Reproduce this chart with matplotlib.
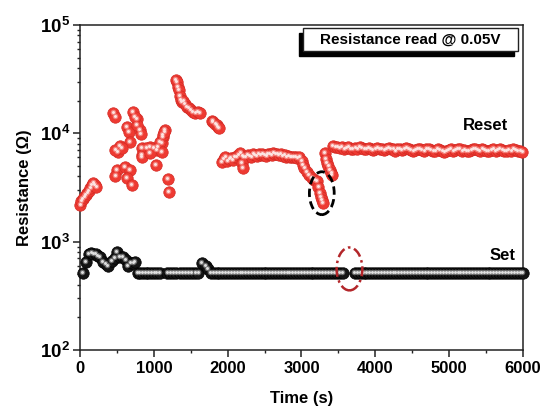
import numpy as np
import matplotlib
matplotlib.use("Agg")
import matplotlib.pyplot as plt
from matplotlib.patches import Ellipse, Rectangle
from matplotlib.transforms import offset_copy
from matplotlib.ticker import FixedLocator, FuncFormatter, LogLocator, NullFormatter, MultipleLocator

plt.rcParams['font.family'] = ['Liberation Sans', 'DejaVu Sans']
plt.rcParams['font.weight'] = 'bold'
plt.rcParams['mathtext.fontset'] = 'custom'
plt.rcParams['mathtext.rm'] = 'Liberation Sans:bold'
plt.rcParams['mathtext.bf'] = 'Liberation Sans:bold'

# ---- Reset state (high resistance) ----
reset_start_t = [0, 20, 40, 60, 80, 100, 120, 140, 160, 180, 200, 220]
reset_start_r = [2200, 2350, 2500, 2600, 2700, 2800, 2950, 3100, 3300, 3450, 3350, 3200]

reset_scatter_t = [447, 474, 717, 771, 636, 663, 812, 825, 1150, 1123, 541, 514, 677, 839,
                   839, 947, 1042, 1110, 1028, 500, 474, 609, 677, 636, 704, 1191, 1204,
                   900, 990, 1055, 1083, 1123, 1140, 1110, 839, 947, 474, 568, 771, 744]
reset_scatter_r = [15500, 14000, 15800, 13500, 11500, 10300, 10700, 9900, 10700, 9200, 7600,
                   6700, 8300, 7300, 6300, 7500, 7000, 8100, 5100, 4600, 4000, 4900, 4600,
                   3900, 3300, 3800, 2900, 7300, 7300, 7500, 8300, 9600, 10300, 6700, 6000,
                   6600, 7000, 7300, 12000, 14100]

reset_peak_t = [1300, 1312, 1326, 1340, 1353, 1367, 1380, 1400, 1420, 1448, 1470, 1500,
                1529, 1560, 1597, 1620, 1790, 1800, 1830, 1850, 1867, 1880]
reset_peak_r = [31000, 30000, 27000, 25000, 22000, 20500, 19500, 20000, 18500, 17500, 17000,
                16500, 15800, 15500, 15700, 15300, 13000, 12700, 12300, 12000, 11500, 11200]

reset_band_r = [5400, 5800, 6000, 5600, 5800, 5900, 5700, 6100, 6000, 6300, 6600, 6200, 6000,
                6100, 6300, 6200, 6100, 6400, 6300, 6200, 6400, 6300, 6500, 6300, 6200, 6400,
                6500, 6300, 6600, 6400, 6500, 6300, 6400, 6200, 6300, 6100, 6200, 6000, 6100,
                6000, 6100, 5900, 6000]
reset_band_t = np.linspace(1920, 2970, len(reset_band_r))
reset_outlier_t = [2190, 2206]
reset_outlier_r = [5300, 4800]

reset_dip_t = [3004, 3018, 3040, 3072, 3100, 3139, 3170, 3207, 3230, 3248, 3262, 3275, 3285,
               3315, 3330, 3342, 3360, 3383, 3400, 3410]
reset_dip_r = [5600, 5100, 4800, 4400, 4100, 3900, 3700, 3600, 3200, 2800, 2600, 2400, 2250,
               6600, 5800, 5300, 5000, 4600, 4300, 4100]

reset_late_r = [7700, 7500, 7400, 7300, 7400, 7200, 7300, 7400, 7200, 7100, 7300, 7200, 7400,
                7300, 7100, 7200, 7300, 7200, 7000, 7200, 7300, 7100, 7200, 7000, 7100, 7300,
                7200, 7100, 6900, 7100, 7200, 7000, 7100, 7300, 7200, 7000, 6800, 7000, 7100,
                7200, 7000, 6900, 7100, 7200, 7000, 6800, 6900, 7100, 7000, 6900, 6700, 6900,
                7000, 7100, 6900, 7000, 7200, 7100, 6900, 7000, 6800, 6900, 7000, 7100, 7200,
                7000, 6900, 7100, 7000, 6800, 6900, 7000, 7100, 6900, 7000, 7200, 7000, 6900,
                6800, 7000, 6900, 7100, 7000, 6900, 6800, 6700]
reset_late_t = np.linspace(3425, 5990, len(reset_late_r))

# ---- Set state (low resistance) ----
set_early_t = [40, 80, 120, 150, 180, 210, 240, 270, 311, 350, 379, 433, 470, 500, 540, 582,
               620, 650, 690, 720, 744, 785]
set_early_r = [510, 650, 770, 780, 775, 770, 740, 720, 650, 620, 600, 660, 700, 800, 720, 720,
               680, 590, 630, 640, 650, 510]
set_flat1_r = [510, 510, 510, 510, 510, 510, 510, 510]
set_flat1_t = np.linspace(810, 1080, len(set_flat1_r))
set_flat2_r = [510, 510, 510, 510, 510, 510, 510, 510, 510, 510, 510]
set_flat2_t = np.linspace(1180, 1600, len(set_flat2_r))
set_bump_t = [1651, 1700, 1732]
set_bump_r = [630, 590, 560]
set_flat3_r = [510] * 46
set_flat3_t = np.linspace(1770, 3560, len(set_flat3_r))
set_flat4_r = [510] * 58
set_flat4_t = np.linspace(3720, 6000, len(set_flat4_r))

reset_t = np.concatenate([reset_start_t, reset_scatter_t, reset_peak_t, reset_band_t,
                          reset_outlier_t, reset_dip_t, reset_late_t])
reset_r = np.concatenate([reset_start_r, reset_scatter_r, reset_peak_r, reset_band_r,
                          reset_outlier_r, reset_dip_r, reset_late_r])
set_t = np.concatenate([set_early_t, set_flat1_t, set_flat2_t, set_bump_t, set_flat3_t, set_flat4_t])
set_r = np.concatenate([set_early_r, set_flat1_r, set_flat2_r, set_bump_r, set_flat3_r, set_flat4_r])

fig = plt.figure(figsize=(5.45, 4.09), dpi=100)
ax = fig.add_axes([0.1468, 0.1443, 0.8128, 0.7946])
ax.set_yscale('log')
ax.set_xlim(0, 6000)
ax.set_ylim(1e2, 1e5)

# glossy spheres: base disc, soft glow and a small bright highlight nudged up-left
hl = offset_copy(ax.transData, fig=fig, x=-0.5, y=1.0, units='dots')


def spheres(t, r, face, edge, glow, shine):
    ax.scatter(t, r, s=68, c=face, edgecolors=edge, linewidths=0.5, zorder=3, clip_on=False)
    ax.scatter(t, r, s=16, c=glow, linewidths=0, zorder=4, transform=hl, clip_on=False)
    ax.scatter(t, r, s=4.5, c=shine, linewidths=0, zorder=5, transform=hl, clip_on=False)


spheres(reset_t, reset_r, '#ee3a32', '#d42a24', '#f47f79', '#fde6e4')
spheres(set_t, set_r, '#141414', '#000000', '#6a6a6a', '#e0e0e0')

# axes styling
for sp in ax.spines.values():
    sp.set_linewidth(1.1)
    sp.set_color('#222222')
ax.xaxis.set_major_locator(MultipleLocator(1000))
ax.xaxis.set_minor_locator(MultipleLocator(500))
ax.yaxis.set_major_locator(FixedLocator([1e2, 1e3, 1e4, 1e5]))
ax.yaxis.set_major_formatter(FuncFormatter(lambda v, p: r'$\mathbf{10^{%d}}$' % round(np.log10(v))))
ax.yaxis.set_minor_locator(LogLocator(base=10, subs=np.arange(2, 10)))
ax.yaxis.set_minor_formatter(NullFormatter())
ax.tick_params(axis='both', which='major', direction='out', length=5, width=1.1, color='#222222')
ax.tick_params(axis='both', which='minor', direction='out', length=2.5, width=1.0, color='#222222')
ax.tick_params(axis='x', labelsize=12, pad=3)
ax.tick_params(axis='y', labelsize=13.5, pad=2)
ax.tick_params(top=False, right=False, which='both')

ax.set_xlabel('Time (s)', fontsize=12, fontweight='bold', labelpad=11)
ax.set_ylabel('Resistance (\u03a9)', fontsize=12, fontweight='bold', labelpad=6)

ax.text(5494, 1.19e4, 'Reset', fontsize=12, fontweight='bold', ha='center', va='center')
ax.text(5724, 752, 'Set', fontsize=12, fontweight='bold', ha='center', va='center')

# annotation box with drop shadow
shadow_tr = offset_copy(ax.transAxes, fig=fig, x=-4, y=-5, units='dots')
bx, by, bw, bh = 0.503, 0.92, 0.486, 0.072
ax.add_patch(Rectangle((bx, by), bw, bh, transform=shadow_tr,
                       facecolor='black', edgecolor='black', zorder=6, clip_on=False))
ax.add_patch(Rectangle((bx, by), bw, bh, transform=ax.transAxes,
                       facecolor='white', edgecolor='#222222', linewidth=1.0, zorder=7, clip_on=False))
ax.text(bx + bw / 2, by + bh / 2, 'Resistance read @ 0.05V', transform=ax.transAxes,
        fontsize=11, fontweight='bold', ha='center', va='center', zorder=8)

# dashed ellipses highlighting the dip and the gap
to_axes = ax.transAxes.inverted()
c1 = to_axes.transform(ax.transData.transform((3275, 2800)))
ax.add_patch(Ellipse(c1, 0.056, 0.132, transform=ax.transAxes, fill=False,
                     edgecolor='black', linewidth=2.0, linestyle=(0, (3, 1.6)), zorder=9))
c2 = to_axes.transform(ax.transData.transform((3650, 560)))
ax.add_patch(Ellipse(c2, 0.058, 0.132, transform=ax.transAxes, fill=False,
                     edgecolor='#b3262a', linewidth=1.8, linestyle=(0, (4, 1.5, 1, 1.5)), zorder=9))

fig.savefig('out.png', dpi=100)
